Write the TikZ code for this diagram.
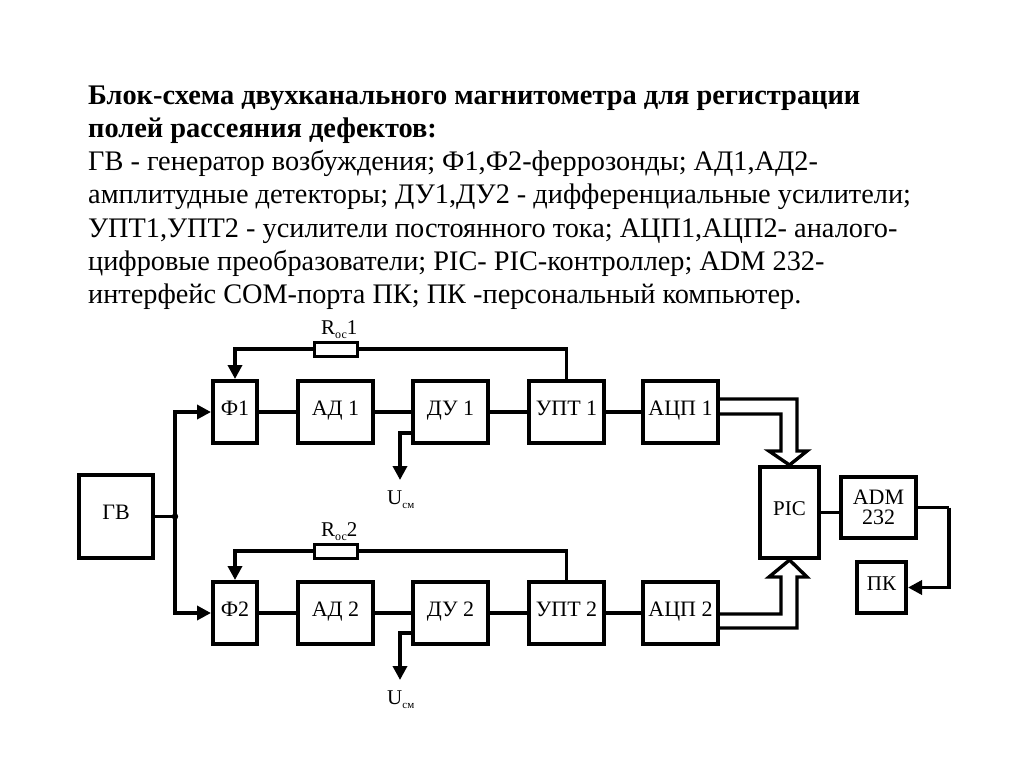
\documentclass[tikz,border=0pt]{standalone}
\usepackage{fontspec}
\setmainfont{Liberation Serif}
\usetikzlibrary{arrows.meta,calc}
\begin{document}
\begin{tikzpicture}[x=1pt,y=-1pt,
 box/.style={draw,line width=4pt,inner sep=0pt,align=center,font=\fontsize{22}{23}\selectfont},
 blk/.style={box,text height=0.66em,text depth=0pt},
 wire/.style={line width=3.5pt},
 arr/.style={wire,-{Triangle[length=14pt,width=14pt]}},
 bus/.style={line width=3.4pt,line join=miter},
 res/.style={draw,line width=3pt,fill=white,minimum width=43pt,minimum height=14pt,inner sep=0pt},
 lbl/.style={anchor=base west,inner sep=0pt,font=\fontsize{21}{22}\selectfont},
 ttl/.style={anchor=base west,inner sep=0pt,font=\fontsize{28.3}{33}\selectfont}]
\useasboundingbox (0,0) rectangle (1024,767);
% title
\node[ttl,font=\fontsize{28.4}{33}\selectfont\bfseries] (t1) at (88,105) {Блок-схема двухканального магнитометра для регистрации};
\node[ttl,font=\fontsize{28.4}{33}\selectfont\bfseries] (t2) at (88,138) {полей рассеяния дефектов:};
\node[ttl] (t3) at (88,171) {ГВ - генератор возбуждения; Ф1,Ф2-феррозонды; АД1,АД2-};
\node[ttl] (t4) at (88,204) {амплитудные детекторы; ДУ1,ДУ2 - дифференциальные усилители;};
\node[ttl] (t5) at (88,237) {УПТ1,УПТ2 - усилители постоянного тока; АЦП1,АЦП2- аналого-};
\node[ttl] (t6) at (88,270) {цифровые преобразователи; PIC- PIC-контроллер; ADM 232-};
\node[ttl] (t7) at (88,303) {интерфейс COM-порта ПК; ПК -персональный компьютер.};
% blocks
\node[blk,minimum width=74pt,minimum height=83pt] (gv) at (116,516.5) {ГВ};
\node[blk,minimum width=44pt,minimum height=62pt] (f1) at (235,412) {Ф1};
\node[blk,minimum width=75pt,minimum height=62pt] (ad1) at (335.5,412) {АД 1};
\node[blk,minimum width=75pt,minimum height=62pt] (du1) at (450.5,412) {ДУ 1};
\node[blk,minimum width=75pt,minimum height=62pt] (upt1) at (566.5,412) {УПТ 1};
\node[blk,minimum width=75pt,minimum height=62pt] (adc1) at (680.5,412) {АЦП 1};
\node[blk,minimum width=44pt,minimum height=62pt] (f2) at (235,613) {Ф2};
\node[blk,minimum width=75pt,minimum height=62pt] (ad2) at (335.5,613) {АД 2};
\node[blk,minimum width=75pt,minimum height=62pt] (du2) at (450.5,613) {ДУ 2};
\node[blk,minimum width=75pt,minimum height=62pt] (upt2) at (566.5,613) {УПТ 2};
\node[blk,minimum width=75pt,minimum height=62pt] (adc2) at (680.5,613) {АЦП 2};
\node[blk,minimum width=59pt,minimum height=91pt,font=\fontsize{21}{22}\selectfont] (pic) at (789.5,512.5) {PIC};
\node[box,minimum width=75pt,minimum height=61pt,font=\fontsize{22}{20}\selectfont] (adm) at (878.5,507.5) {ADM\\232};
\node[blk,minimum width=49pt,minimum height=51pt,font=\fontsize{21}{21}\selectfont] (pk) at (881.5,587.5) {ПК};
% chain connections
\foreach \a/\b in {f1/ad1,ad1/du1,du1/upt1,upt1/adc1,f2/ad2,ad2/du2,du2/upt2,upt2/adc2}
  \draw[wire] (\a.east) -- (\b.west);
% generator
\coordinate (j) at (175,516.5);
\draw[wire] (gv.east) -- (j);
\draw[arr] (j) |- (f1.west);
\draw[arr] (j) |- (f2.west);
\fill (j) circle (3.2pt);
% feedback resistors
\node[res] (r1) at (335.5,349) {};
\node[res] (r2) at (335.5,551) {};
\draw[wire] (upt1.north) |- (r1.east);
\draw[arr] (r1.west) -| (f1.north);
\draw[wire] (upt2.north) |- (r2.east);
\draw[arr] (r2.west) -| (f2.north);
\node[lbl] (lr1) at (321,334) {R\raisebox{-0.5ex}{\fontsize{12}{13}\selectfont ос}1};
\node[lbl] (lr2) at (321,536) {R\raisebox{-0.5ex}{\fontsize{12}{13}\selectfont ос}2};
% bias
\coordinate (u1) at (400,480);
\coordinate (u2) at (400,680);
\draw[arr] ($(du1.west)+(0,21)$) -| (u1);
\draw[arr] ($(du2.west)+(0,20)$) -| (u2);
\node[lbl] (lu1) at (387,504) {U\raisebox{-0.5ex}{\fontsize{11}{12}\selectfont см}};
\node[lbl] (lu2) at (387,704) {U\raisebox{-0.5ex}{\fontsize{11}{12}\selectfont см}};
% bus arrows to PIC
\draw[bus] ($(adc1.east)+(0,-13)$) -- (797,399) -- (797,451) -- (807,451) -- (pic.north) -- (769,451) -- (781,451) -- (781,414) -- ($(adc1.east)+(0,2)$);
\draw[bus] ($(adc2.east)+(0,1)$) -- (781,614) -- (781,577) -- (769,577) -- (pic.south) -- (807,577) -- (797,577) -- (797,628) -- ($(adc2.east)+(0,15)$);
% PIC - ADM - PK
\draw[wire] (pic.east) -- (adm.west |- pic.east);
\coordinate (c1) at (949,507.5);
\draw[wire] (adm.east) -- (c1);
\draw[arr] (c1) |- (pk.east);
\end{tikzpicture}
\end{document}
